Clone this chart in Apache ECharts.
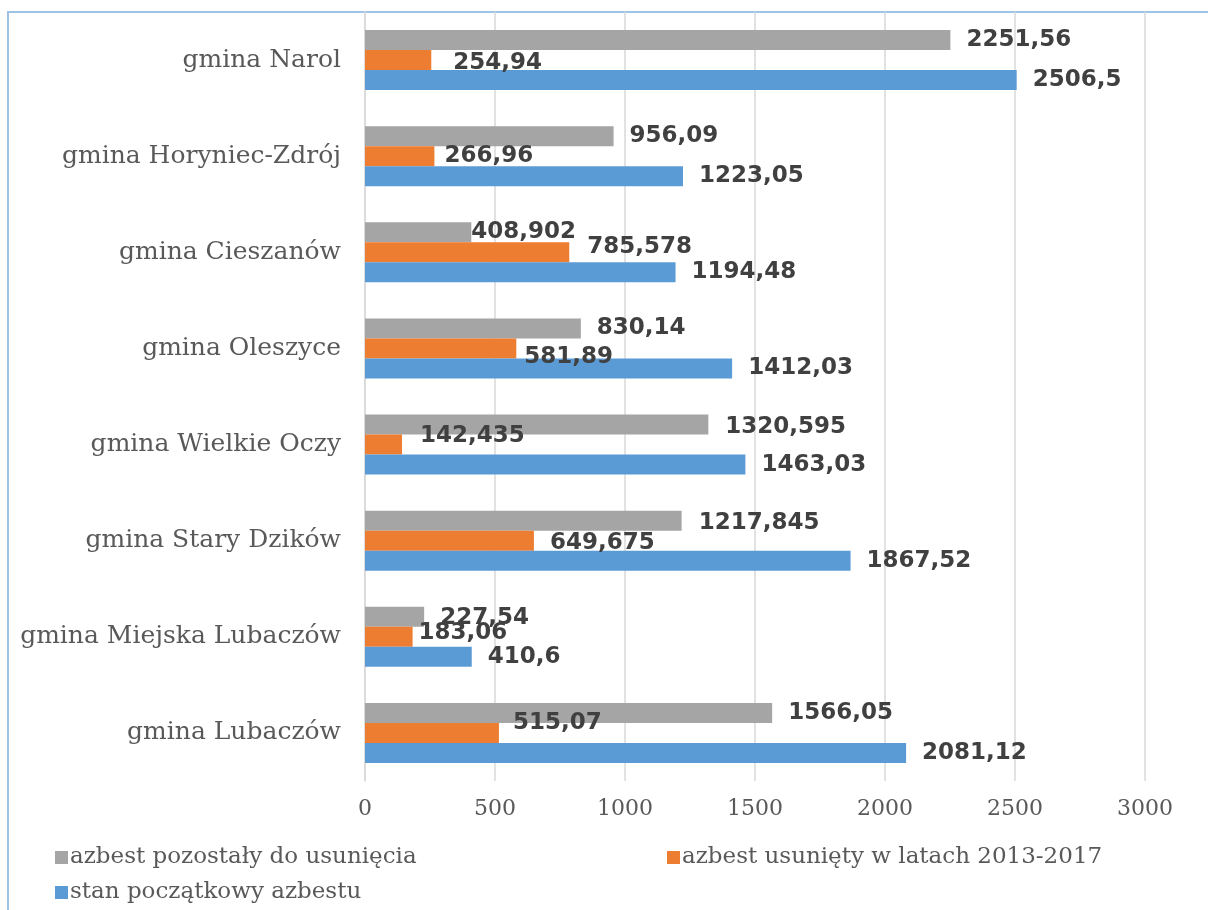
<!DOCTYPE html>
<html>
<head>
<meta charset="utf-8">
<title>Azbest - gminy</title>
<script src="https://cdn.jsdelivr.net/npm/echarts@6/dist/echarts.min.js"></script>
<style>
  html, body { margin: 0; padding: 0; background: #fff; }
  #chart { width: 1208px; height: 910px; }
</style>
</head>
<body>
<div id="chart"></div>
<script>
// kategorie (od dołu do góry, jak w Excelu)
const categories = ['gmina Lubaczów', 'gmina Miejska Lubaczów', 'gmina Stary Dzików', 'gmina Wielkie Oczy',
  'gmina Oleszyce', 'gmina Cieszanów', 'gmina Horyniec-Zdrój', 'gmina Narol']
// azbest pozostały do usunięcia
const pozostaly = [1566.05, 227.54, 1217.845, 1320.595, 830.14, 408.902, 956.09, 2251.56]
// azbest usunięty w latach 2013-2017
const usuniety = [515.07, 183.06, 649.675, 142.435, 581.89, 785.578, 266.96, 254.94]
// stan początkowy azbestu
const poczatkowy = [2081.12, 410.6, 1867.52, 1463.03, 1412.03, 1194.48, 1223.05, 2506.5]
const xTicks = [0, 3000, 500]

const names = ['azbest pozostały do usunięcia', 'azbest usunięty w latach 2013-2017', 'stan początkowy azbestu']
const colors = ['#A5A5A5', '#ED7D31', '#5B9BD5']

// ręcznie przesunięte etykiety (jak w oryginale)
const labelShift = {
  '0-5': [-16, 0], '0-3': [1, 2], '0-2': [1, 2], '0-1': [0, 1],
  '1-7': [6, 3], '1-6': [-6, 0], '1-5': [2, -5], '1-4': [-8, 9], '1-3': [2, -9], '1-2': [0, 2],
  '1-1': [-10, -4], '1-0': [-2, -10]
}

function buildData(values, s) {
  return values.map((v, i) => {
    const shift = labelShift[s + '-' + i]
    return shift ? { value: v, label: { offset: shift } } : v
  })
}

const myChart = echarts.init(document.getElementById('chart'))

const option = {
  animation: false,
  grid: { left: 365, right: 63, top: 12, bottom: 129 },
  graphic: [{
    type: 'rect',
    shape: { x: 8, y: 12, width: 1500, height: 1200 },
    style: { fill: 'none', stroke: '#9DC3E6', lineWidth: 2 },
    z: -1
  }],
  xAxis: {
    type: 'value',
    min: xTicks[0], max: xTicks[1], interval: xTicks[2],
    axisLine: { show: false },
    axisTick: { show: false },
    splitLine: { lineStyle: { color: '#D9D9D9', width: 1.5 } },
    axisLabel: {
      color: '#595959', fontFamily: 'DejaVu Serif', fontSize: 22, margin: 17,
      formatter: (v) => String(v)
    }
  },
  yAxis: {
    type: 'category',
    data: categories,
    axisLine: { lineStyle: { color: '#D9D9D9', width: 1.5 } },
    axisTick: { show: false },
    axisLabel: { color: '#595959', fontFamily: 'DejaVu Serif', fontSize: 25, margin: 24 }
  },
  legend: [0, 1, 2].map((i) => ({
    data: [names[i]],
    left: i === 1 ? 662 : 50,
    top: i === 2 ? 876 : 841,
    icon: 'rect',
    itemWidth: 13,
    itemHeight: 13,
    textStyle: { color: '#595959', fontFamily: 'DejaVu Serif', fontSize: 23, padding: [0, 0, 0, -3] }
  })),
  series: [pozostaly, usuniety, poczatkowy].map((vals, s) => ({
    name: names[s],
    type: 'bar',
    data: buildData(vals, s),
    itemStyle: { color: colors[s] },
    barGap: '0%',
    barCategoryGap: '37.6%',
    label: {
      show: true,
      position: 'right',
      distance: 16,
      color: '#404040',
      fontFamily: 'DejaVu Sans',
      fontWeight: 'bold',
      fontSize: 23,
      formatter: (p) => String(p.value).replace('.', ',')
    }
  }))
}

myChart.setOption(option)
</script>
</body>
</html>
